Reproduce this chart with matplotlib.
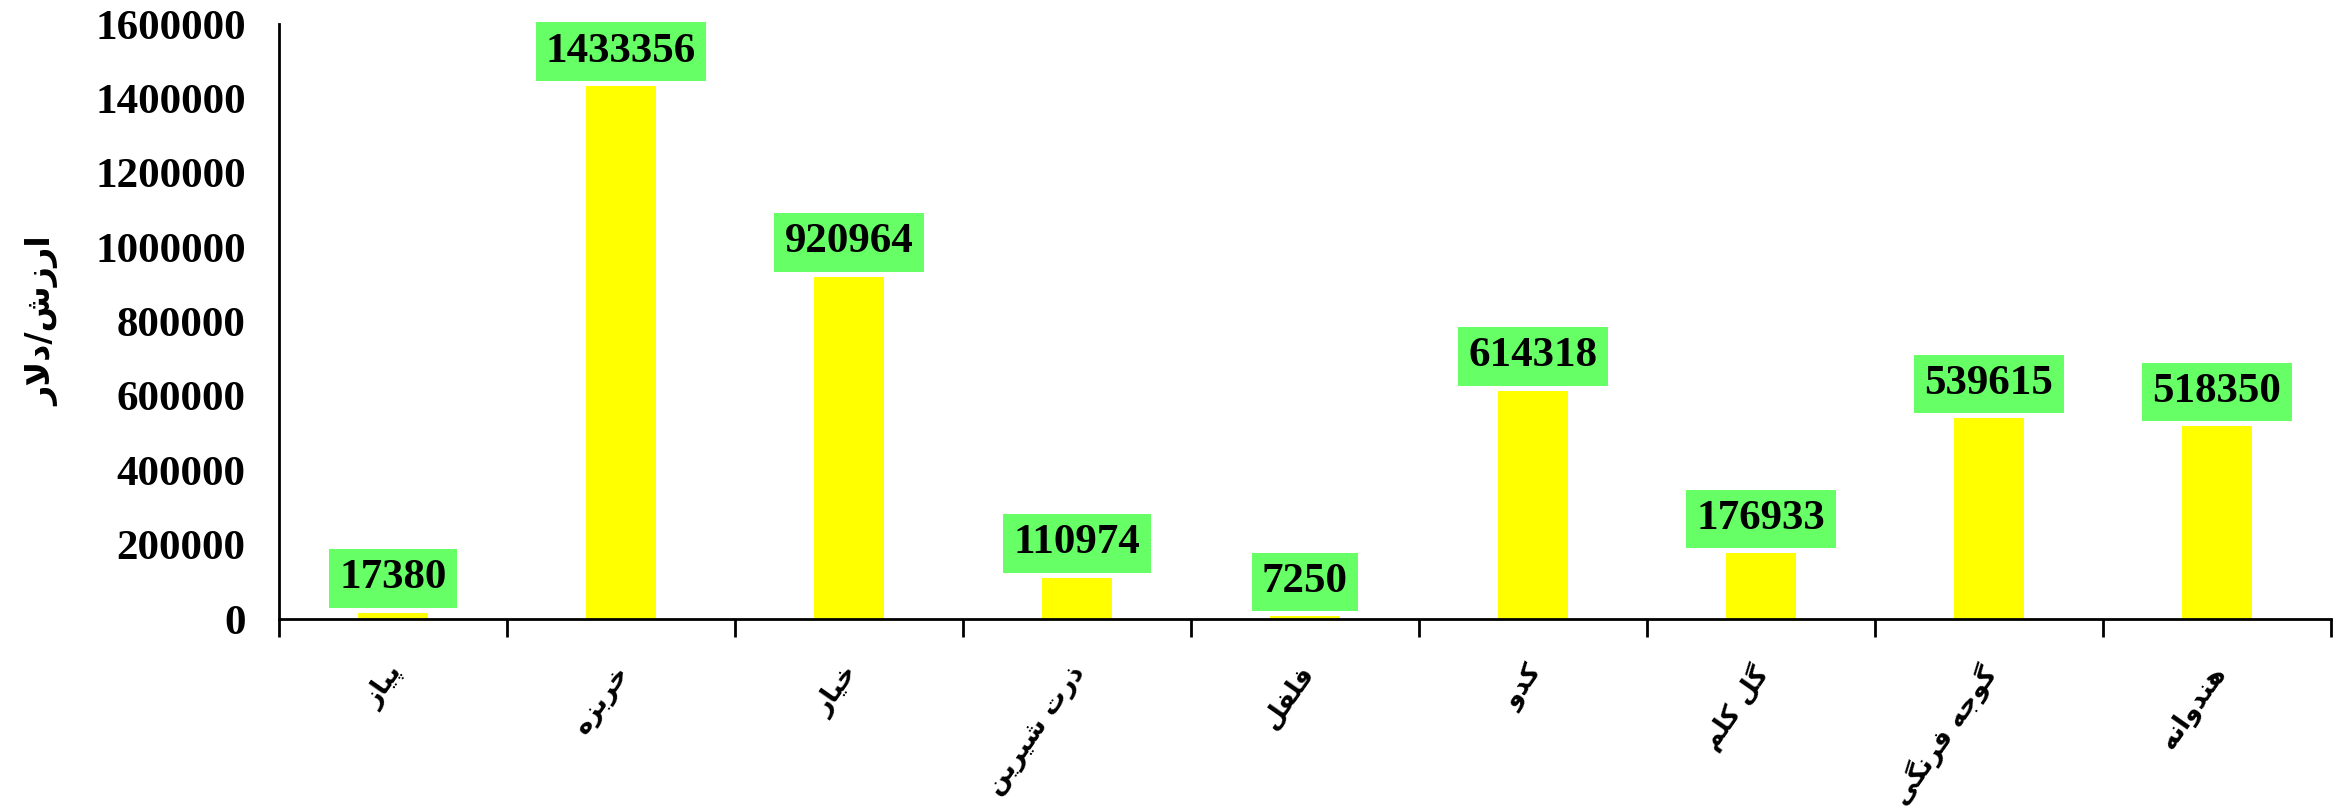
import matplotlib
matplotlib.use('Agg')
import matplotlib.pyplot as plt
import matplotlib.transforms as mtransforms
from matplotlib import font_manager
from matplotlib.ft2font import FT2Font

categories = ['پیاز', 'خربزه', 'خیار', 'ذرت شیرین', 'فلفل', 'کدو', 'گل کلم', 'گوجه فرنگی', 'هندوانه']
values = [17380, 1433356, 920964, 110974, 7250, 614318, 176933, 539615, 518350]
yticks = [0, 200000, 400000, 600000, 800000, 1000000, 1200000, 1400000, 1600000]
ylabel = 'ارزش/دلار'

# presentation forms: isolated, final, initial, medial
FORMS = {
    'ا': ('\uFE8D', '\uFE8E', None, None),
    'ب': ('\uFE8F', '\uFE90', '\uFE91', '\uFE92'),
    'پ': ('\uFB56', '\uFB57', '\uFB58', '\uFB59'),
    'ت': ('\uFE95', '\uFE96', '\uFE97', '\uFE98'),
    'ج': ('\uFE9D', '\uFE9E', '\uFE9F', '\uFEA0'),
    'خ': ('\uFEA5', '\uFEA6', '\uFEA7', '\uFEA8'),
    'د': ('\uFEA9', '\uFEAA', None, None),
    'ذ': ('\uFEAB', '\uFEAC', None, None),
    'ر': ('\uFEAD', '\uFEAE', None, None),
    'ز': ('\uFEAF', '\uFEB0', None, None),
    'ش': ('\uFEB5', '\uFEB6', '\uFEB7', '\uFEB8'),
    'ف': ('\uFED1', '\uFED2', '\uFED3', '\uFED4'),
    'ک': ('\uFB8E', '\uFB8F', '\uFB90', '\uFB91'),
    'گ': ('\uFB92', '\uFB93', '\uFB94', '\uFB95'),
    'ل': ('\uFEDD', '\uFEDE', '\uFEDF', '\uFEE0'),
    'م': ('\uFEE1', '\uFEE2', '\uFEE3', '\uFEE4'),
    'ن': ('\uFEE5', '\uFEE6', '\uFEE7', '\uFEE8'),
    'ه': ('\uFEE9', '\uFEEA', '\uFEEB', '\uFEEC'),
    'و': ('\uFEED', '\uFEEE', None, None),
    'ی': ('\uFBFC', '\uFBFD', '\uFBFE', '\uFBFF'),
}


def shape(text):
    # crude arabic shaping + reverse for display
    out = []
    i = 0
    while i < len(text):
        c = text[i]
        if c not in FORMS:
            out.append(c)
            i += 1
            continue
        prev = text[i - 1] if i > 0 else None
        joins_prev = prev in FORMS and FORMS[prev][2] is not None
        if c == 'ل' and i + 1 < len(text) and text[i + 1] == 'ا':
            out.append('\uFEFC' if joins_prev else '\uFEFB')
            i += 2
            continue
        nxt = text[i + 1] if i + 1 < len(text) else None
        joins_next = FORMS[c][2] is not None and nxt in FORMS
        iso, fin, ini, med = FORMS[c]
        if joins_prev and joins_next:
            out.append(med)
        elif joins_prev:
            out.append(fin)
        elif joins_next:
            out.append(ini)
        else:
            out.append(iso)
        i += 1
    return ''.join(reversed(out))


fa_weight = 'bold'
path = font_manager.findfont(font_manager.FontProperties(family='DejaVu Sans', weight='bold'))
cmap = FT2Font(path).get_charmap()
if 0xFB56 not in cmap or 0xFEB7 not in cmap:
    fa_weight = 'normal'

num_font = 'Liberation Serif'

fig = plt.figure(figsize=(23.49, 8.11), dpi=100)
ax = fig.add_axes([0.1188, 0.2367, 0.8735, 0.7337])

x = list(range(len(categories)))
bars = ax.bar(x, values, width=0.31, color='#FFFF00', zorder=2)

for xi, v in zip(x, values):
    ax.annotate(str(v), xy=(xi, v), xytext=(0, 11), textcoords='offset points',
                ha='center', va='bottom', fontsize=31, fontweight='bold',
                family=num_font, color='black',
                bbox=dict(boxstyle='square,pad=0.24', fc='#66FF66', ec='none'))

ax.set_xlim(-0.5, len(categories) - 0.5)
ax.set_ylim(0, 1600000)
ax.set_yticks(yticks)
ax.set_yticklabels([str(t) for t in yticks], fontsize=31, fontweight='bold', family=num_font)
ax.tick_params(axis='y', length=0, pad=24)

# ticks between categories, labels at centers
ax.set_xticks([i - 0.5 for i in range(len(categories) + 1)])
ax.set_xticklabels([])
ax.tick_params(axis='x', which='major', direction='out', length=13, width=2)
ax.set_xticks(x, minor=True)
ax.set_xticklabels([shape(c) for c in categories], minor=True, rotation=55,
                   ha='right', va='top', fontsize=19, fontweight=fa_weight,
                   family='DejaVu Sans')
ax.tick_params(axis='x', which='minor', length=0, pad=30)
offset = mtransforms.ScaledTranslation(14 / 100, 0, fig.dpi_scale_trans)
for lbl in ax.xaxis.get_minorticklabels():
    lbl.set_transform(lbl.get_transform() + offset)

ax.set_ylabel(shape(ylabel), fontsize=24, fontweight=fa_weight, family='DejaVu Sans', labelpad=26)

for s in ['top', 'right']:
    ax.spines[s].set_visible(False)
for s in ['left', 'bottom']:
    ax.spines[s].set_linewidth(2)

fig.savefig('out.png', dpi=100)
